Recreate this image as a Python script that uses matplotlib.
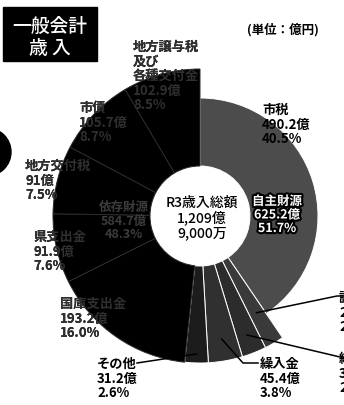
import matplotlib.pyplot as plt
from matplotlib.patches import Circle, Rectangle
import matplotlib.patheffects as pe
import numpy as np

plt.rcParams['font.family'] = ['Noto Sans CJK JP', 'DejaVu Sans']

# R3 一般会計 歳入 (億円), clockwise from 12 o'clock
categories = ['市税', '諸収入', '繰越金', '繰入金', 'その他',
              '国庫支出金', '県支出金', '地方交付税', '市債', '地方譲与税及び各種交付金']
amounts = [490.2, 25.9, 32.5, 45.4, 31.2, 193.2, 91.9, 91.0, 105.7, 102.9]
shares = [40.5, 2.1, 2.7, 3.8, 2.6, 16.0, 7.6, 7.5, 8.7, 8.5]
own_total, own_share = 625.2, 51.7      # 自主財源
dep_total, dep_share = 584.7, 48.3      # 依存財源
total_text = 'R3歳入総額\n1,209億\n9,000万'

colors = ['#4c4c4c', '#3a3a3a', '#2c2c2c', '#303030', '#1c1c1c',
          '#000000', '#000000', '#000000', '#000000', '#000000']

W, H = 344, 406


def Y(py):
    # pixel row (from top) -> data y
    return H - py


fig = plt.figure(figsize=(3.44, 4.06), dpi=100)
ax = fig.add_axes([0, 0, 1, 1])

cx, cy = 200, Y(217)
R, hole = 147, 50

wedges, _ = ax.pie(amounts, colors=colors, startangle=90, counterclock=False,
                   radius=R, center=(cx, cy),
                   wedgeprops=dict(width=R - hole, linewidth=0.7))
for i, w in enumerate(wedges):
    w.set_zorder(2)
    w.set_edgecolor('white' if i < 5 else '#2a2a2a')
# the halftone of 市税 fades out toward its rim in the print
wedges[0].set_radius(118)
wedges[0].set_width(118 - hole)

ax.set_xlim(0, W)
ax.set_ylim(0, H)
ax.set_aspect('equal')
ax.axis('off')

cum = np.concatenate([[0], np.cumsum(amounts)])
tot = cum[-1]


def rim_point(i, r, frac=0.5):
    th = 2 * np.pi * (cum[i] + frac * amounts[i]) / tot
    return cx + r * np.sin(th), cy + r * np.cos(th)


clip_disc = Circle((cx, cy), R, transform=ax.transData)


def label(x, py, text, ghost=True):
    ax.text(x, Y(py), text, ha='left', va='top', fontsize=9.5,
            fontweight='bold', linespacing=1.05, zorder=1 if ghost else 5)
    if ghost:
        # the part printed over the black ring barely shows through
        t = ax.text(x, Y(py), text, ha='left', va='top', fontsize=9.5,
                    fontweight='bold', linespacing=1.05, zorder=3,
                    color='#303030')
        t.set_clip_path(clip_disc)


def fmt(i):
    return f'{amounts[i]:.1f}億\n{shares[i]:.1f}%'


label(133, 40, '地方譲与税\n及び\n各種交付金\n' + fmt(9))
label(79, 101, '市債\n' + fmt(8))
label(262, 103, '市税\n' + fmt(0), ghost=False)
label(25, 159, '地方交付税\n91億\n7.5%')
label(33, 230, '県支出金\n' + fmt(6))
label(60, 297, '国庫支出金\n' + fmt(5))
label(97, 357, 'その他\n' + fmt(4), ghost=False)
label(260, 357, '繰入金\n' + fmt(3), ghost=False)
label(339, 291, '諸収入\n' + fmt(1), ghost=False)
label(339, 352, '繰越金\n' + fmt(2), ghost=False)

# leader lines
lk = dict(color='black', lw=1.1, zorder=4)
p = rim_point(3, 125)
ax.plot([258, 243, p[0]], [Y(364), Y(364), p[1]], **lk)
p = rim_point(4, 138)
ax.plot([137, p[0]], [Y(364), p[1]], **lk)
p = rim_point(1, 112)
ax.plot([344, 337, p[0]], [Y(297), Y(297), p[1]], **lk)
p = rim_point(2, 128)
ax.plot([344, 340, p[0]], [Y(358), Y(358), p[1]], **lk)

# center of the ring
ax.text(cx + 2, Y(218), total_text, ha='center', va='center', fontsize=10,
        fontweight='medium', linespacing=1.1, zorder=5)

# group totals
ax.text(277, Y(216), f'自主財源\n{own_total:.1f}億\n{own_share:.1f}%',
        ha='center', va='center', fontsize=9, fontweight='bold', color='white',
        linespacing=1.05, zorder=5,
        path_effects=[pe.withStroke(linewidth=3, foreground='black')])
ax.text(124, Y(221), f'依存財源\n{dep_total:.1f}億\n{dep_share:.1f}%',
        ha='center', va='center', fontsize=9, fontweight='bold', color='#3c3c3c',
        linespacing=1.05, zorder=5)

# title block
ax.add_patch(Rectangle((3, Y(62)), 94, 54, color='black', zorder=2))
ax.text(50, Y(26), '一般会計', ha='center', va='center', fontsize=13.5,
        fontweight='medium', color='white', zorder=3)
ax.text(50, Y(48), '歳 入', ha='center', va='center', fontsize=13.5,
        fontweight='medium', color='white', zorder=3)
ax.text(283, Y(30), '(単位：億円)', ha='center', va='center', fontsize=9,
        fontweight='bold')

# edge of the neighbouring graphic
ax.add_patch(Circle((-13, Y(153)), 24, color='black', zorder=2))

fig.savefig('out.png', dpi=100)
